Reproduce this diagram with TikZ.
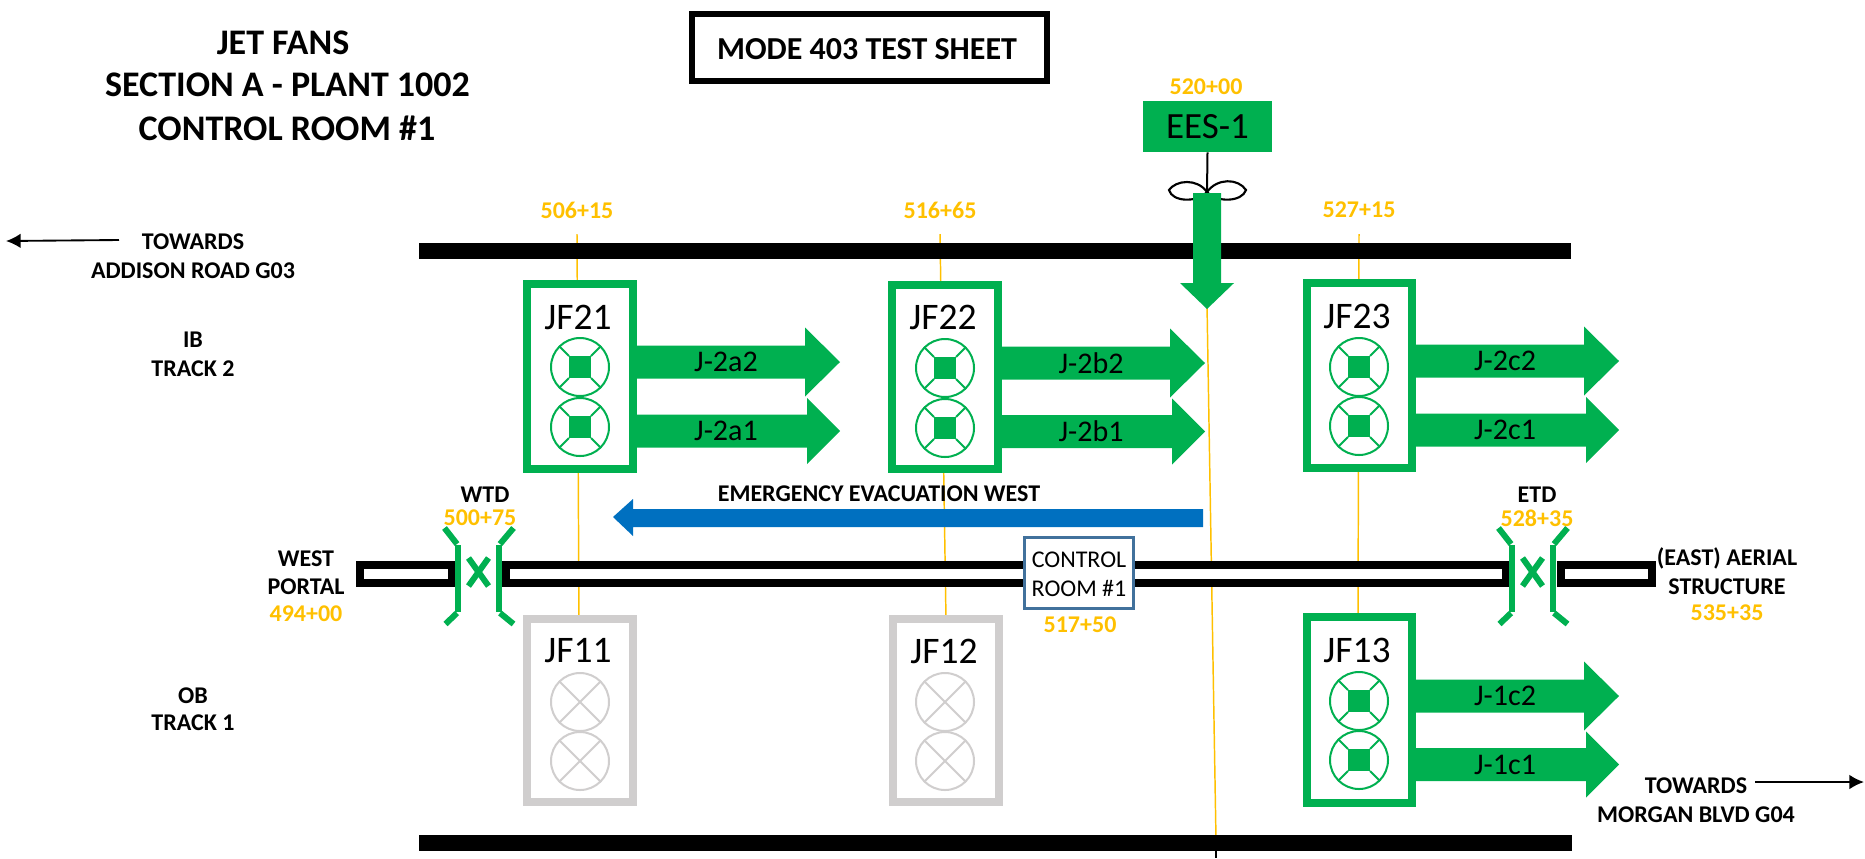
\documentclass[tikz,border=0pt]{standalone}
\usepackage{fontspec}
\usetikzlibrary{arrows.meta}
\setmainfont{Carlito}
\definecolor{jgreen}{HTML}{00B050}
\definecolor{jorange}{HTML}{FFC000}
\definecolor{jblue}{HTML}{0070C0}
\definecolor{jgray}{HTML}{D0CECE}
\definecolor{jedge}{HTML}{41719C}
\newcommand{\fpx}[1]{\fontsize{\dimexpr#1pt*3/4\relax}{\dimexpr#1pt*9/10\relax}\selectfont}
\tikzset{
  title/.style={font=\fpx{36}\bfseries,inner sep=0pt,text=black},
  lbl/.style={font=\fpx{24}\bfseries,inner sep=0pt,text=black},
  sta/.style={font=\fpx{24}\bfseries,inner sep=0pt,text=jorange},
  jfname/.style={font=\fpx{37.5},inner sep=0pt,text=black},
  arrlbl/.style={font=\fpx{30},inner sep=0pt,text=black},
  orangeline/.style={draw=jorange,line width=1.1pt},
  bar/.style={fill=black},
  tube/.style={draw=black,fill=white,line width=6pt},
  jfon/.style={draw=jgreen,fill=white,line width=6pt},
  jfoff/.style={draw=jgray,fill=white,line width=6pt},
  door/.style={draw=jgreen,line width=3.9pt},
  flap/.style={draw=jgreen,line width=4.5pt},
  fanon/.pic={
    \draw[jgreen,line width=1.5pt] (0,0) circle (29);
    \fill[jgreen] (-11,-11) rectangle (11,11);
    \draw[jgreen,line width=1.5pt] (-21,-21)--(-11,-11) (21,-21)--(11,-11) (-21,21)--(-11,11) (21,21)--(11,11);
  },
  fanoff/.pic={
    \draw[jgray,line width=1.5pt] (0,0) circle (29);
    \draw[jgray,line width=1.5pt] (-21,-21)--(21,21) (21,-21)--(-21,21);
  },
  doorset/.pic={
    \draw[door] (-20.5,-26)--(-20.5,41);
    \draw[door] (20.5,-26)--(20.5,41);
    \draw[flap] (-21.5,-27)--(-34,-43);
    \draw[flap] (21.5,-27)--(35,-43);
    \draw[flap] (-21.5,42)--(-33,53);
    \draw[flap] (21.5,42)--(35,53);
    \draw[flap] (-10,-13)--(10,15);
    \draw[flap] (10,-13)--(-10,15);
  }
}
% \blockarrow{name}{x0}{xtip}{ycentre}{label}{headlength}{headhalf}
\newcommand{\blockarrow}[7]{
  \fill[jgreen] (#2,#4-16.5)--(#3-#6,#4-16.5)--(#3-#6,#4-#7)--(#3,#4)--(#3-#6,#4+#7)--(#3-#6,#4+16.5)--(#2,#4+16.5)--cycle;
  \node[arrlbl] (#1) at ({(#2+#3-35)/2+5},#4) {#5};
}
\begin{document}
\begin{tikzpicture}[x=0.75pt,y=-0.75pt]
\useasboundingbox (0,0) rectangle (1865,858);

% title block
\node[title] (t1) at (283,43) {JET FANS};
\node[title] (t2) at (287.5,85) {SECTION A - PLANT 1002};
\node[title] (t3) at (287,128) {CONTROL ROOM \#1};
\node[draw=black,line width=4.5pt,minimum width=355pt*3/4,minimum height=67pt*3/4,inner sep=0pt] (modebox) at (869.5,47) {};
\node[title,font=\fpx{32}\bfseries] (modetxt) at (867,49) {MODE 403 TEST SHEET};

% station labels
\node[sta] (s1) at (577,210) {506+15};
\node[sta] (s2) at (940,210) {516+65};
\node[sta] (s3) at (1359,210) {527+15};
\node[sta] (s4) at (1206,87) {520+00};
\node[sta] (s5) at (480,518) {500+75};
\node[sta] (s6) at (1537,518) {528+35};
\node[sta] (s7) at (306,614) {494+00};
\node[sta] (s8) at (1727,613) {535+35};
\node[sta] (s9) at (1080,625) {517+50};

% orange station lines
\coordinate (o1a) at (577,234); \coordinate (o1b) at (579,620);
\coordinate (o2a) at (940,234); \coordinate (o2b) at (946,620);
\coordinate (o3a) at (1359,234); \coordinate (o3b) at (1358,620);
\coordinate (o4a) at (1207,305); \coordinate (o4b) at (1216,840);
\coordinate (o4c) at (1216,858);
\draw[orangeline] (o1a)--(o1b);
\draw[orangeline] (o2a)--(o2b);
\draw[orangeline] (o3a)--(o3b);
\draw[orangeline] (o4a)--(o4b);
\draw[black,line width=1.1pt] (o4b)--(o4c);

% track walls
\fill[bar] (419,243) rectangle (1571,259);
\fill[bar] (419,835) rectangle (1572,851);

% tube
\draw[tube] (360,565) rectangle (452,583);
\draw[tube] (506,565) rectangle (1506,583);
\draw[tube] (1561,565) rectangle (1652,583);

% doors
\pic at (478.5,571) {doorset};
\pic at (1532.5,571) {doorset};
\node[lbl] (wtd) at (485,495) {WTD};
\node[lbl] (etd) at (1537,495) {ETD};

% EES
\node[fill=jgreen,minimum width=129pt*3/4,minimum height=51pt*3/4,inner sep=0pt,font=\fpx{37},text=black] (ees) at (1207.5,126.5) {EES-1};
\coordinate (hub) at (1207,192);
\draw[black,line width=1.5pt] (ees.south)++(0,0) -- (hub);
\draw[black,line width=1.6pt] (hub) .. controls (1197,178) and (1176,180) .. (1169,190) .. controls (1172,202) and (1197,203) .. (hub);
\draw[black,line width=1.6pt] (hub) .. controls (1217,178) and (1238,178) .. (1246,190) .. controls (1242,202) and (1217,203) .. (hub);
\fill[jgreen] (1193,193)--(1221,193)--(1221,283)--(1234,283)--(1207,309)--(1180,283)--(1193,283)--cycle;

% blue arrow
\fill[jblue] (1203,509)--(633,509)--(633,499)--(613,517)--(633,536)--(633,527)--(1203,527)--cycle;
\node[lbl] (evac) at (879,494) {EMERGENCY EVACUATION WEST};

% control room
\node[draw=jedge,fill=white,line width=2pt,minimum width=109pt*3/4,minimum height=71pt*3/4,inner sep=0pt] (cr) at (1079,573) {};
\node[arrlbl,font=\fpx{24}] (cr1) at (1079,560) {CONTROL};
\node[arrlbl,font=\fpx{24}] (cr2) at (1079,588) {ROOM \#1};

% JF top row
\draw[jfon] (527,284) rectangle (633,469);
\node[jfname] (jf21) at (578,317) {JF21};
\pic at (580,367) {fanon}; \pic at (580,427) {fanon};
\draw[jfon] (892,285) rectangle (998,469);
\node[jfname] (jf22) at (943,317) {JF22};
\pic at (945,368) {fanon}; \pic at (945,428) {fanon};
\draw[jfon] (1307,283) rectangle (1412,468);
\node[jfname] (jf23) at (1357,316) {JF23};
\pic at (1359,367) {fanon}; \pic at (1359,426) {fanon};

% JF bottom row
\draw[jfoff] (527,619) rectangle (633,802);
\node[jfname] (jf11) at (578,651) {JF11};
\pic at (580,702) {fanoff}; \pic at (580,761) {fanoff};
\draw[jfoff] (893,619) rectangle (999,802);
\node[jfname] (jf12) at (944,651) {JF12};
\pic at (945,702) {fanoff}; \pic at (945,761) {fanoff};
\draw[jfon] (1307,617) rectangle (1412,803);
\node[jfname] (jf13) at (1357,650) {JF13};
\pic at (1359,701) {fanon}; \pic at (1359,760) {fanon};

% jet arrows
\blockarrow{a1}{637}{840}{362}{J-2a2}{35}{34.5}
\blockarrow{a2}{637}{840}{431}{J-2a1}{33}{33}
\blockarrow{b1}{1002}{1205}{363}{J-2b2}{35}{34.5}
\blockarrow{b2}{1002}{1205}{431.5}{J-2b1}{33}{33}
\blockarrow{c1}{1416}{1619}{361}{J-2c2}{35}{34.5}
\blockarrow{c2}{1416}{1619}{430}{J-2c1}{33}{33}
\blockarrow{d1}{1416}{1619}{696}{J-1c2}{35}{34.5}
\blockarrow{d2}{1416}{1619}{764.5}{J-1c1}{33}{33}

% left labels
\node[lbl] (tw1) at (193,242) {TOWARDS};
\node[lbl] (tw2) at (193,271) {ADDISON ROAD G03};
\node[lbl] (ib) at (193,340) {IB};
\node[lbl] (tr2) at (193,369) {TRACK 2};
\node[lbl] (ob) at (193,696) {OB};
\node[lbl] (tr1) at (193,723) {TRACK 1};
\node[lbl] (west) at (306,559) {WEST};
\node[lbl] (portal) at (306,587) {PORTAL};
\node[lbl] (east) at (1727,558) {(EAST) AERIAL};
\node[lbl] (struct) at (1727,587) {STRUCTURE};
\node[lbl] (tw3) at (1696,786) {TOWARDS};
\node[lbl] (morgan) at (1696,815) {MORGAN BLVD G04};

% direction arrows
\coordinate (da1) at (119,240); \coordinate (da2) at (6,241);
\coordinate (db1) at (1755,782); \coordinate (db2) at (1864,782);
\draw[black,line width=1.4pt,-{Latex[length=11pt,width=11pt]}] (da1)--(da2);
\draw[black,line width=1.4pt,-{Latex[length=11pt,width=11pt]}] (db1)--(db2);
\end{tikzpicture}
\end{document}
